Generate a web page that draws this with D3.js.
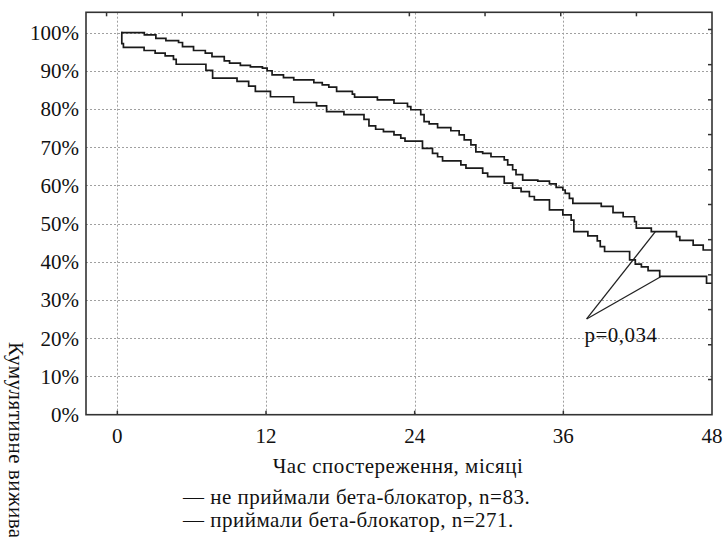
<!DOCTYPE html>
<html>
<head>
<meta charset="utf-8">
<script src="https://cdn.jsdelivr.net/npm/d3@7"></script>
<style>
  body { margin: 0; background: #fff; }
  svg text { font-family: "Liberation Serif", "Times New Roman", "DejaVu Serif", serif; fill: #111; }
</style>
</head>
<body>
<svg id="chart" width="724" height="537"></svg>
<script>
// Криві Каплана-Мейєра: [місяць, % кумулятивного виживання], точки сходинок
const takingSteps = [
  [0.3, 100], [2.18, 99.4], [3.11, 98.5], [3.92, 97.9], [4.94, 97.4], [5.26, 96.3],
  [6.15, 95.3], [7.1, 94.6], [7.64, 93.7], [8.63, 92.6], [9.06, 92.0], [9.93, 91.4],
  [10.74, 91.0], [11.71, 90.7], [12.09, 90.0], [12.49, 88.9], [13.41, 88.2], [14.24, 87.6],
  [15.86, 86.9], [16.54, 86.3], [17.07, 85.7], [17.7, 84.6], [18.97, 83.9], [19.15, 83.1],
  [20.99, 82.4], [22.33, 81.5], [23.42, 80.6], [23.69, 79.8], [24.49, 78.5], [24.76, 76.7],
  [25.17, 76.1], [25.85, 75.1], [26.92, 74.3], [27.59, 73.2], [28.0, 71.9], [28.54, 70.6],
  [28.94, 68.8], [29.49, 68.4], [30.16, 67.5], [31.23, 66.7], [31.51, 65.4], [31.91, 64.1],
  [32.18, 62.8], [32.72, 61.4], [33.94, 61.1], [34.88, 60.4], [35.42, 59.5], [35.96, 58.8],
  [36.15, 57.9], [36.49, 56.6], [36.77, 55.3], [39.06, 54.5], [40.01, 52.9], [40.83, 51.8],
  [41.75, 50.5], [41.89, 48.8], [43.1, 47.9], [45.13, 46.6], [45.4, 45.6], [46.48, 44.4],
  [47.29, 43.1], [48, 43.1]
];
const notTakingSteps = [
  [0.3, 100], [0.36, 97.1], [0.49, 96.1], [2.16, 95.3], [3.05, 94.6], [3.86, 93.9],
  [4.53, 93.0], [4.75, 91.7], [7.15, 90.1], [7.69, 88.1], [9.66, 87.2], [10.6, 86.0],
  [11.14, 84.6], [12.36, 83.2], [14.24, 81.7], [16.08, 80.8], [16.89, 79.3], [18.29, 78.5],
  [19.91, 77.3], [20.31, 75.6], [20.85, 74.7], [21.48, 74.1], [22.33, 73.2], [22.88, 72.4],
  [23.22, 71.6], [24.63, 69.7], [25.44, 68.4], [25.85, 67.5], [26.25, 66.4], [27.73, 65.4],
  [28.14, 64.5], [29.49, 63.2], [29.89, 62.3], [31.23, 60.6], [31.91, 59.3], [32.59, 58.4],
  [33.26, 57.1], [33.66, 56.2], [34.88, 53.6], [35.96, 52.3], [36.63, 50.9], [36.85, 47.9],
  [37.98, 46.8], [38.74, 45.5], [38.98, 44.0], [39.33, 42.7], [41.35, 40.5], [41.81, 39.4],
  [42.3, 38.7], [42.84, 37.7], [43.78, 36.2], [47.56, 34.4], [48, 34.4]
];

const xTicks = [0, 12, 24, 36, 48];
const yTicks = [0, 10, 20, 30, 40, 50, 60, 70, 80, 90, 100];
// дрібні засічки на верхній та правій осях (без підписів)
const topTicks = [-0.87, 5.24, 11.35, 17.46, 23.57, 29.68, 35.79, 41.9];
const rightTicks = [9.2, 18.3, 27.5, 36.6, 45.8, 55.0, 64.1, 73.3, 82.4, 91.6, 100.8];

const pLabel = "p=0,034";
const pOrigin = [37.88, 25.05];
const pTargets = [[43.43, 47.9], [43.86, 36.1]];

const xTitle = "Час спостереження, місяці";
const yTitle = "Кумулятивне виживання";
const legendItems = [
  "— не приймали бета-блокатор, n=83.",
  "— приймали бета-блокатор, n=271."
];

const margin = { top: 12.3, right: 12, bottom: 122.3, left: 86 };
const width = 724, height = 537;
const fontSize = 21;

const svg = d3.select("#chart");

const x = d3.scaleLinear().domain([-2.53, 48]).range([margin.left, width - margin.right]);
const y = d3.scaleLinear().domain([0, 105.3]).range([height - margin.bottom, margin.top]);

const x0 = x.range()[0], x1 = x.range()[1];
const y0 = y.range()[0], y1 = y.range()[1];

// сітка
const grid = svg.append("g").attr("class", "grid")
  .attr("stroke", "#a0a0a0").attr("stroke-width", 1).attr("stroke-dasharray", "2,2");
grid.selectAll("line.h").data(yTicks.filter(d => d > 0)).enter()
  .append("line").attr("class", "h")
  .attr("x1", x0).attr("x2", x1)
  .attr("y1", d => Math.round(y(d)) + 0.5).attr("y2", d => Math.round(y(d)) + 0.5);
grid.selectAll("line.v").data(xTicks.filter(d => d < 48)).enter()
  .append("line").attr("class", "v")
  .attr("y1", y0).attr("y2", y1)
  .attr("x1", d => Math.round(x(d)) + 0.5).attr("x2", d => Math.round(x(d)) + 0.5);

// криві
const line = d3.line()
  .x(d => x(d[0]))
  .y(d => y(d[1]))
  .curve(d3.curveStepAfter);

svg.append("g").selectAll("path").data([takingSteps, notTakingSteps]).enter()
  .append("path")
  .attr("d", line)
  .attr("fill", "none")
  .attr("stroke", "#1a1a1a")
  .attr("stroke-width", 1.7);

// рамка
svg.append("rect")
  .attr("x", x0).attr("y", y1)
  .attr("width", x1 - x0).attr("height", y0 - y1)
  .attr("fill", "none").attr("stroke", "#333").attr("stroke-width", 1.6);

// засічки
const ticks = svg.append("g").attr("stroke", "#333").attr("stroke-width", 1.5);
ticks.selectAll("line.b").data(xTicks.filter(d => d < 48)).enter()
  .append("line").attr("class", "b")
  .attr("x1", d => x(d)).attr("x2", d => x(d))
  .attr("y1", y0).attr("y2", y0 - 4);
ticks.selectAll("line.t").data(topTicks).enter()
  .append("line").attr("class", "t")
  .attr("x1", d => x(d)).attr("x2", d => x(d))
  .attr("y1", y1).attr("y2", y1 + 4);
ticks.selectAll("line.r").data(rightTicks).enter()
  .append("line").attr("class", "r")
  .attr("x1", x1).attr("x2", x1 - 4)
  .attr("y1", d => y(d)).attr("y2", d => y(d));

// підписи осей
svg.append("g").selectAll("text").data(yTicks).enter()
  .append("text")
  .attr("x", 79).attr("y", d => y(d))
  .attr("dy", "0.35em")
  .attr("text-anchor", "end")
  .attr("font-size", fontSize)
  .text(d => d + "%");

svg.append("g").selectAll("text").data(xTicks).enter()
  .append("text")
  .attr("x", d => x(d)).attr("y", 443)
  .attr("text-anchor", "middle")
  .attr("font-size", fontSize)
  .text(d => d);

svg.append("text")
  .attr("x", 398).attr("y", 473)
  .attr("text-anchor", "middle")
  .attr("font-size", fontSize)
  .attr("letter-spacing", 0.5)
  .text(xTitle);

svg.append("text")
  .attr("transform", "translate(9,342) rotate(90)")
  .attr("font-size", fontSize)
  .attr("letter-spacing", 0.5)
  .text(yTitle);

svg.append("g").selectAll("text").data(legendItems).enter()
  .append("text")
  .attr("x", 183).attr("y", (d, i) => 504 + i * 23)
  .attr("font-size", fontSize)
  .attr("letter-spacing", 0.5)
  .text(d => d);

// анотація p
svg.append("g").selectAll("line").data(pTargets).enter()
  .append("line")
  .attr("x1", x(pOrigin[0])).attr("y1", y(pOrigin[1]))
  .attr("x2", d => x(d[0])).attr("y2", d => y(d[1]))
  .attr("stroke", "#222").attr("stroke-width", 1.3);

svg.append("text")
  .attr("x", x(37.7)).attr("y", y(19))
  .attr("font-size", fontSize)
  .attr("letter-spacing", 0.5)
  .text(pLabel);
</script>
</body>
</html>
